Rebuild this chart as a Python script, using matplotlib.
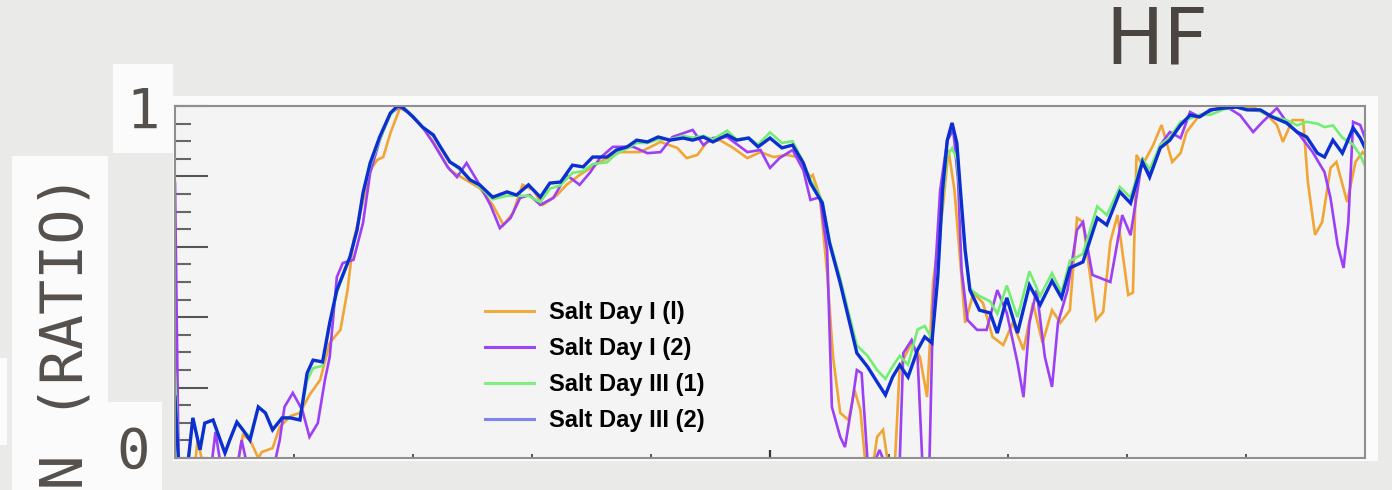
import numpy as np
import matplotlib.pyplot as plt
from matplotlib.lines import Line2D
from matplotlib.patches import Rectangle

# HF ratio curves, four salt-day runs (x in arbitrary channel units, y as ratio)
orange_x = [0.00, 0.03, 0.17, 0.19, 0.23, 0.53, 0.57, 0.63, 0.70, 0.73, 0.82, 0.88, 0.97, 1.05,
            1.13, 1.22, 1.30, 1.39, 1.45, 1.50, 1.55, 1.64, 1.70, 1.75, 1.81, 1.89, 1.97, 2.08,
            2.17, 2.31, 2.39, 2.56, 2.67, 2.76, 2.84, 2.92, 3.01, 3.09, 3.21, 3.29, 3.40, 3.57,
            3.74, 3.91, 4.08, 4.22, 4.30, 4.39, 4.47, 4.58, 4.69, 4.81, 4.92, 5.03, 5.14, 5.23,
            5.34, 5.36, 5.42, 5.48, 5.53, 5.59, 5.66, 5.71, 5.76, 5.80, 5.87, 5.90, 5.95, 5.99,
            6.05, 6.09, 6.19, 6.26, 6.32, 6.37, 6.45, 6.50, 6.55, 6.60, 6.64, 6.71, 6.79, 6.87,
            6.96, 7.04, 7.13, 7.21, 7.29, 7.37, 7.44, 7.52, 7.58, 7.63, 7.74, 7.80, 7.86, 7.92,
            8.01, 8.05, 8.08, 8.13, 8.22, 8.29, 8.38, 8.45, 8.50, 8.61, 8.76, 8.89, 9.06, 9.18,
            9.26, 9.31, 9.39, 9.48, 9.52, 9.58, 9.64, 9.71, 9.76, 9.85, 9.92, 9.98, 10.00]
orange_y = [0.392, -0.011, -0.011, 0.051, -0.011, -0.011, 0.065, 0.051, 0.000, 0.017, 0.028, 0.088,
            0.119, 0.128, 0.179, 0.222, 0.327, 0.364, 0.477, 0.619, 0.685, 0.818, 0.847, 0.855,
            0.923, 0.994, 0.980, 0.940, 0.898, 0.818, 0.801, 0.767, 0.719, 0.662, 0.696, 0.776,
            0.761, 0.719, 0.747, 0.776, 0.804, 0.841, 0.869, 0.869, 0.898, 0.881, 0.852, 0.861,
            0.898, 0.903, 0.881, 0.852, 0.869, 0.855, 0.861, 0.855, 0.798, 0.804, 0.741, 0.526,
            0.287, 0.128, 0.108, 0.193, 0.136, -0.011, -0.011, 0.060, 0.080, -0.011, -0.011, 0.259,
            0.327, 0.287, 0.173, 0.497, 0.705, 0.875, 0.761, 0.554, 0.384, 0.469, 0.440, 0.344,
            0.321, 0.384, 0.307, 0.440, 0.327, 0.420, 0.384, 0.420, 0.682, 0.670, 0.392, 0.415,
            0.614, 0.690, 0.463, 0.470, 0.861, 0.832, 0.889, 0.946, 0.841, 0.866, 0.926, 0.974,
            0.994, 0.997, 0.997, 0.974, 0.946, 0.898, 0.960, 0.960, 0.784, 0.634, 0.670, 0.824,
            0.841, 0.727, 0.841, 0.869, 0.861]

purple_x = [0.00, 0.03, 0.31, 0.34, 0.38, 0.53, 0.56, 0.60, 0.84, 0.88, 0.92, 0.99, 1.07, 1.13,
            1.20, 1.26, 1.30, 1.36, 1.41, 1.50, 1.58, 1.64, 1.72, 1.81, 1.89, 1.97, 2.08, 2.17,
            2.29, 2.37, 2.45, 2.56, 2.65, 2.73, 2.82, 2.90, 2.98, 3.07, 3.18, 3.29, 3.40, 3.49,
            3.57, 3.68, 3.85, 3.97, 4.08, 4.18, 4.35, 4.44, 4.52, 4.64, 4.81, 4.92, 5.00, 5.08,
            5.19, 5.28, 5.34, 5.42, 5.48, 5.52, 5.59, 5.63, 5.69, 5.73, 5.77, 5.82, 5.88, 5.92,
            5.96, 6.09, 6.12, 6.19, 6.24, 6.28, 6.34, 6.37, 6.43, 6.49, 6.54, 6.58, 6.61, 6.66,
            6.74, 6.82, 6.91, 6.99, 7.08, 7.13, 7.18, 7.24, 7.31, 7.37, 7.42, 7.50, 7.58, 7.63,
            7.71, 7.86, 7.96, 8.03, 8.13, 8.19, 8.28, 8.36, 8.45, 8.53, 8.61, 8.72, 8.84, 8.95,
            9.06, 9.14, 9.26, 9.34, 9.45, 9.56, 9.66, 9.71, 9.77, 9.82, 9.86, 9.90, 9.96, 10.00]
purple_y = [0.781, -0.011, -0.011, 0.074, -0.011, -0.011, 0.051, -0.011, -0.011, 0.051, 0.145,
            0.185, 0.136, 0.060, 0.099, 0.222, 0.287, 0.514, 0.554, 0.563, 0.668, 0.810, 0.903,
            0.980, 0.997, 0.980, 0.940, 0.895, 0.827, 0.798, 0.838, 0.776, 0.719, 0.653, 0.682,
            0.739, 0.747, 0.719, 0.739, 0.804, 0.776, 0.812, 0.852, 0.884, 0.884, 0.866, 0.869,
            0.912, 0.932, 0.889, 0.909, 0.912, 0.869, 0.875, 0.824, 0.852, 0.875, 0.818, 0.733,
            0.741, 0.591, 0.145, 0.060, 0.031, 0.156, 0.250, 0.241, -0.011, -0.011, 0.023,
            -0.011, -0.011, 0.298, 0.335, 0.287, -0.011, -0.011, 0.429, 0.761, 0.903, 0.932,
            0.790, 0.534, 0.392, 0.364, 0.364, 0.477, 0.412, 0.270, 0.173, 0.384, 0.477, 0.287,
            0.202, 0.384, 0.477, 0.648, 0.670, 0.520, 0.500, 0.690, 0.633, 0.852, 0.804, 0.889,
            0.926, 0.909, 0.983, 0.969, 0.989, 0.997, 0.974, 0.926, 0.955, 0.994, 0.955, 0.918,
            0.869, 0.812, 0.739, 0.605, 0.540, 0.670, 0.955, 0.946, 0.909]

blue_x = [0.00, 0.03, 0.11, 0.15, 0.21, 0.25, 0.32, 0.38, 0.42, 0.46, 0.52, 0.57, 0.63, 0.70,
          0.76, 0.82, 0.90, 0.97, 1.05, 1.11, 1.16, 1.24, 1.30, 1.36, 1.47, 1.53, 1.58, 1.64,
          1.72, 1.81, 1.87, 1.92, 2.00, 2.08, 2.17, 2.23, 2.31, 2.39, 2.48, 2.56, 2.67, 2.79,
          2.87, 2.97, 3.07, 3.15, 3.24, 3.34, 3.43, 3.51, 3.63, 3.71, 3.80, 3.88, 3.97, 4.06,
          4.16, 4.27, 4.35, 4.44, 4.52, 4.64, 4.72, 4.82, 4.90, 5.00, 5.10, 5.19, 5.28, 5.34,
          5.44, 5.50, 5.59, 5.67, 5.73, 5.82, 5.90, 5.97, 6.03, 6.09, 6.16, 6.24, 6.30, 6.36,
          6.41, 6.45, 6.49, 6.53, 6.57, 6.60, 6.64, 6.68, 6.76, 6.85, 6.91, 6.99, 7.08, 7.18,
          7.27, 7.37, 7.45, 7.52, 7.63, 7.75, 7.83, 7.94, 8.03, 8.13, 8.19, 8.28, 8.36, 8.45,
          8.53, 8.61, 8.70, 8.81, 8.92, 9.01, 9.12, 9.22, 9.34, 9.43, 9.51, 9.60, 9.66, 9.73,
          9.81, 9.90, 9.96, 10.00]
blue_y = [0.173, -0.011, -0.011, 0.114, 0.023, 0.099, 0.108, 0.051, 0.014, 0.051, 0.102, 0.080,
          0.051, 0.145, 0.128, 0.080, 0.114, 0.114, 0.108, 0.241, 0.278, 0.273, 0.384, 0.477,
          0.571, 0.648, 0.753, 0.838, 0.912, 0.980, 1.000, 0.994, 0.969, 0.940, 0.918, 0.884,
          0.841, 0.824, 0.790, 0.776, 0.741, 0.756, 0.747, 0.776, 0.741, 0.781, 0.784, 0.832,
          0.827, 0.855, 0.855, 0.875, 0.884, 0.903, 0.898, 0.912, 0.903, 0.909, 0.903, 0.912,
          0.898, 0.918, 0.903, 0.909, 0.884, 0.909, 0.881, 0.889, 0.838, 0.781, 0.724, 0.611,
          0.497, 0.384, 0.298, 0.259, 0.216, 0.179, 0.230, 0.264, 0.230, 0.307, 0.344, 0.327,
          0.514, 0.761, 0.903, 0.952, 0.895, 0.761, 0.591, 0.477, 0.420, 0.412, 0.355, 0.455,
          0.355, 0.491, 0.435, 0.503, 0.455, 0.540, 0.557, 0.682, 0.662, 0.756, 0.724, 0.841,
          0.798, 0.881, 0.903, 0.946, 0.974, 0.969, 0.989, 0.994, 0.997, 0.989, 0.989, 0.969,
          0.952, 0.926, 0.912, 0.866, 0.855, 0.903, 0.866, 0.938, 0.909, 0.881]

green_x = blue_x
green_y = [0.241, -0.011, -0.011, 0.114, 0.023, 0.099, 0.108, 0.051, 0.014, 0.051, 0.102, 0.080,
           0.060, 0.145, 0.128, 0.080, 0.114, 0.114, 0.108, 0.220, 0.255, 0.262, 0.380, 0.470,
           0.570, 0.650, 0.750, 0.830, 0.905, 0.975, 0.997, 0.994, 0.972, 0.940, 0.915, 0.884,
           0.841, 0.820, 0.790, 0.770, 0.735, 0.745, 0.745, 0.745, 0.727, 0.765, 0.775, 0.810,
           0.815, 0.835, 0.840, 0.865, 0.880, 0.895, 0.895, 0.905, 0.905, 0.915, 0.910, 0.915,
           0.905, 0.930, 0.905, 0.910, 0.890, 0.925, 0.895, 0.900, 0.840, 0.790, 0.730, 0.620,
           0.510, 0.400, 0.320, 0.290, 0.250, 0.225, 0.260, 0.290, 0.265, 0.365, 0.375, 0.340,
           0.520, 0.740, 0.860, 0.880, 0.850, 0.740, 0.580, 0.480, 0.460, 0.445, 0.410, 0.490,
           0.400, 0.530, 0.460, 0.525, 0.470, 0.560, 0.580, 0.715, 0.690, 0.770, 0.740, 0.850,
           0.820, 0.890, 0.910, 0.955, 0.965, 0.975, 0.975, 0.990, 0.997, 0.990, 0.985, 0.970,
           0.960, 0.945, 0.955, 0.950, 0.940, 0.945, 0.910, 0.890, 0.860, 0.830]

labels = ['Salt Day I (l)', 'Salt Day I (2)', 'Salt Day III (1)', 'Salt Day III (2)']
line_colors = ['#f0a535', '#9c3ff5', '#72ee72', '#0c2fd2']
key_colors = ['#f2ab3e', '#9c45f2', '#7ff07f', '#7c86ee']

W, H = 1392, 490


def px_box(x0, y0, x1, y1):
    # pixel box (top-left origin) -> figure fraction rect
    return (x0 / W, 1 - y1 / H, (x1 - x0) / W, (y1 - y0) / H)


fig = plt.figure(figsize=(W / 100, H / 100), dpi=100)
fig.patch.set_facecolor('#eaeae8')

# white panels behind the plot and the labels
for box in [(173, 96, 1378, 461), (113, 64, 173, 153), (108, 402, 162, 490),
            (12, 156, 108, 490), (0, 358, 7, 445)]:
    x, y, w, h = px_box(*box)
    fig.add_artist(Rectangle((x, y), w, h, transform=fig.transFigure,
                             facecolor='#fbfbfb', edgecolor='none', zorder=0))

ax = fig.add_axes(px_box(175, 106, 1365, 458))
ax.set_facecolor('#f4f4f4')

for xs, ys, c, lw in zip([orange_x, purple_x, green_x, blue_x],
                         [orange_y, purple_y, green_y, blue_y],
                         line_colors, [1.9, 1.9, 1.9, 2.4]):
    ax.plot(xs, ys, color=c, lw=lw, solid_joinstyle='miter')

ax.set_xlim(0, 10)
ax.set_ylim(0, 1)
ax.set_xticks([5])
ax.set_xticks(np.arange(1, 10), minor=True)
ax.set_yticks(np.arange(0, 1.01, 0.2))
ax.set_yticks(np.arange(0, 1.01, 0.05), minor=True)
ax.tick_params(axis='x', which='major', direction='in', length=6, width=1.6, color='#333333',
               labelbottom=False)
ax.tick_params(axis='x', which='minor', direction='in', length=3, width=1.4, color='#555555')
ax.tick_params(axis='y', which='major', direction='in', length=24, width=1.5, color='#555555',
               labelleft=False)
ax.tick_params(axis='y', which='minor', direction='in', length=11.5, width=1.5, color='#666666')
for s in ax.spines.values():
    s.set_color('#8f8f8f')
    s.set_linewidth(1.5)

handles = [Line2D([], [], color=c, lw=2.2) for c in key_colors]
ax.legend(handles, labels, loc='upper left', bbox_to_anchor=(0.2505, 0.48), frameon=False,
          prop={'family': 'Liberation Sans', 'weight': 'bold', 'size': 17},
          handlelength=2.1, handletextpad=0.6, labelspacing=0.55, borderpad=0)

txt = '#55504b'
fig.text(1157 / W, 1 - 42 / H, 'HF', ha='center', va='center', fontsize=56,
         color='#4a4541', family='DejaVu Sans')
fig.text(143 / W, 1 - 113 / H, '1', ha='center', va='center', fontsize=40,
         color=txt, family='DejaVu Sans Mono')
fig.text(133 / W, 1 - 453 / H, '0', ha='center', va='center', fontsize=40,
         color=txt, family='DejaVu Sans Mono')
fig.text(66 / W, 1 - 173 / H, 'TRANSMISSION (RATIO)', ha='center', va='top', rotation=90,
         fontsize=42, color=txt, family='DejaVu Sans Mono')

fig.savefig('out.png', dpi=100, facecolor=fig.get_facecolor())
